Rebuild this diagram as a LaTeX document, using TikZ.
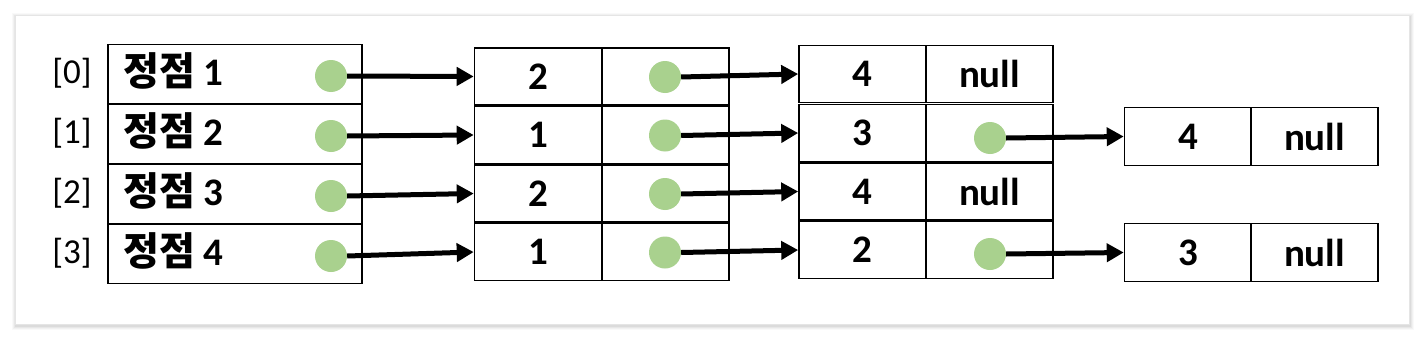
\documentclass[tikz,border=0pt]{standalone}
\usepackage{fontspec}
\setmainfont{Carlito}
\newfontfamily\krb{Noto Sans CJK KR Bold}
\usetikzlibrary{arrows.meta}
\definecolor{ptgreen}{HTML}{A9D18E}
\begin{document}
\begin{tikzpicture}[x=1pt,y=-1pt,
  cell/.style={draw=black, line width=1.6pt, rectangle, minimum width=127pt,
    minimum height=57pt, inner sep=0pt, font=\fontsize{39}{44}\selectfont\bfseries},
  arrcell/.style={draw=black, line width=1.6pt, rectangle, minimum width=254pt,
    minimum height=59pt, inner sep=0pt},
  vlabel/.style={anchor=base west, inner sep=0pt, font=\fontsize{39}{44}\selectfont\bfseries},
  idx/.style={inner sep=0pt, font=\fontsize{35}{40}\selectfont},
  dot/.style={circle, fill=ptgreen, minimum size=32pt, inner sep=0pt},
  arr/.style={line width=5pt, -{Triangle[length=17pt,width=18pt]}}]
\useasboundingbox (0,0) rectangle (1424,340);
\fill[white] (0,0) rectangle (1424,340);
% card with soft shadow
\foreach \o/\op in {4/0.025,3/0.03,2/0.04,1/0.05}
  \fill[black, opacity=\op] (15-\o+1,15-\o+2) rectangle (1409+\o+1,324+\o+2);
\draw[fill=white, draw=black!10, line width=0.8pt] (15,15) rectangle (1409,324);

% array of vertices
\foreach \i/\n/\y in {0/1/74,1/2/134,2/3/194,3/4/254}{
  \node[arrcell] (a\i) at (235,\y) {};
  \node[vlabel] (t\i) at (123,\y+11) {{\krb 정점} \n};
  \node[idx] (i\i) at (72,\y-1) {[\i]};
  \node[dot] (p\i) at (331,\y+2) {};
}

% second column
\foreach \i/\v/\y in {0/2/76.5,1/1/135,2/2/193.5,3/1/252}{
  \node[cell] (b\i) at (538,\y) {\v};
  \node[cell] (c\i) at (665.5,\y) {};
  \node[dot] (q\i) at (665,\y+0.5) {};
}

% third column
\node[cell] (d0) at (862.5,74) {4};
\node[cell] (e0) at (989.5,74) {null};
\node[cell] (d1) at (862.5,133) {3};
\node[cell] (e1) at (989.5,133) {};
\node[cell] (d2) at (862.5,191.5) {4};
\node[cell] (e2) at (989.5,191.5) {null};
\node[cell] (d3) at (862.5,250) {2};
\node[cell] (e3) at (989.5,250) {};
\node[dot] (r1) at (990,138) {};
\node[dot] (r3) at (990,254) {};

% fourth column
\node[cell, minimum height=58pt] (f0) at (1188,136.5) {4};
\node[cell, minimum height=58pt] (g0) at (1314.5,136.5) {null};
\node[cell, minimum height=58pt] (f1) at (1188,252.5) {3};
\node[cell, minimum height=58pt] (g1) at (1314.5,252.5) {null};

% arrows
\foreach \i in {0,1,2,3}{
  \draw[arr] (p\i.east) -- (b\i.west);
  \draw[arr] (q\i.east) -- (d\i.west);
}
\draw[arr] (r1.east) -- (f0.west);
\draw[arr] (r3.east) -- (f1.west);
\end{tikzpicture}
\end{document}
